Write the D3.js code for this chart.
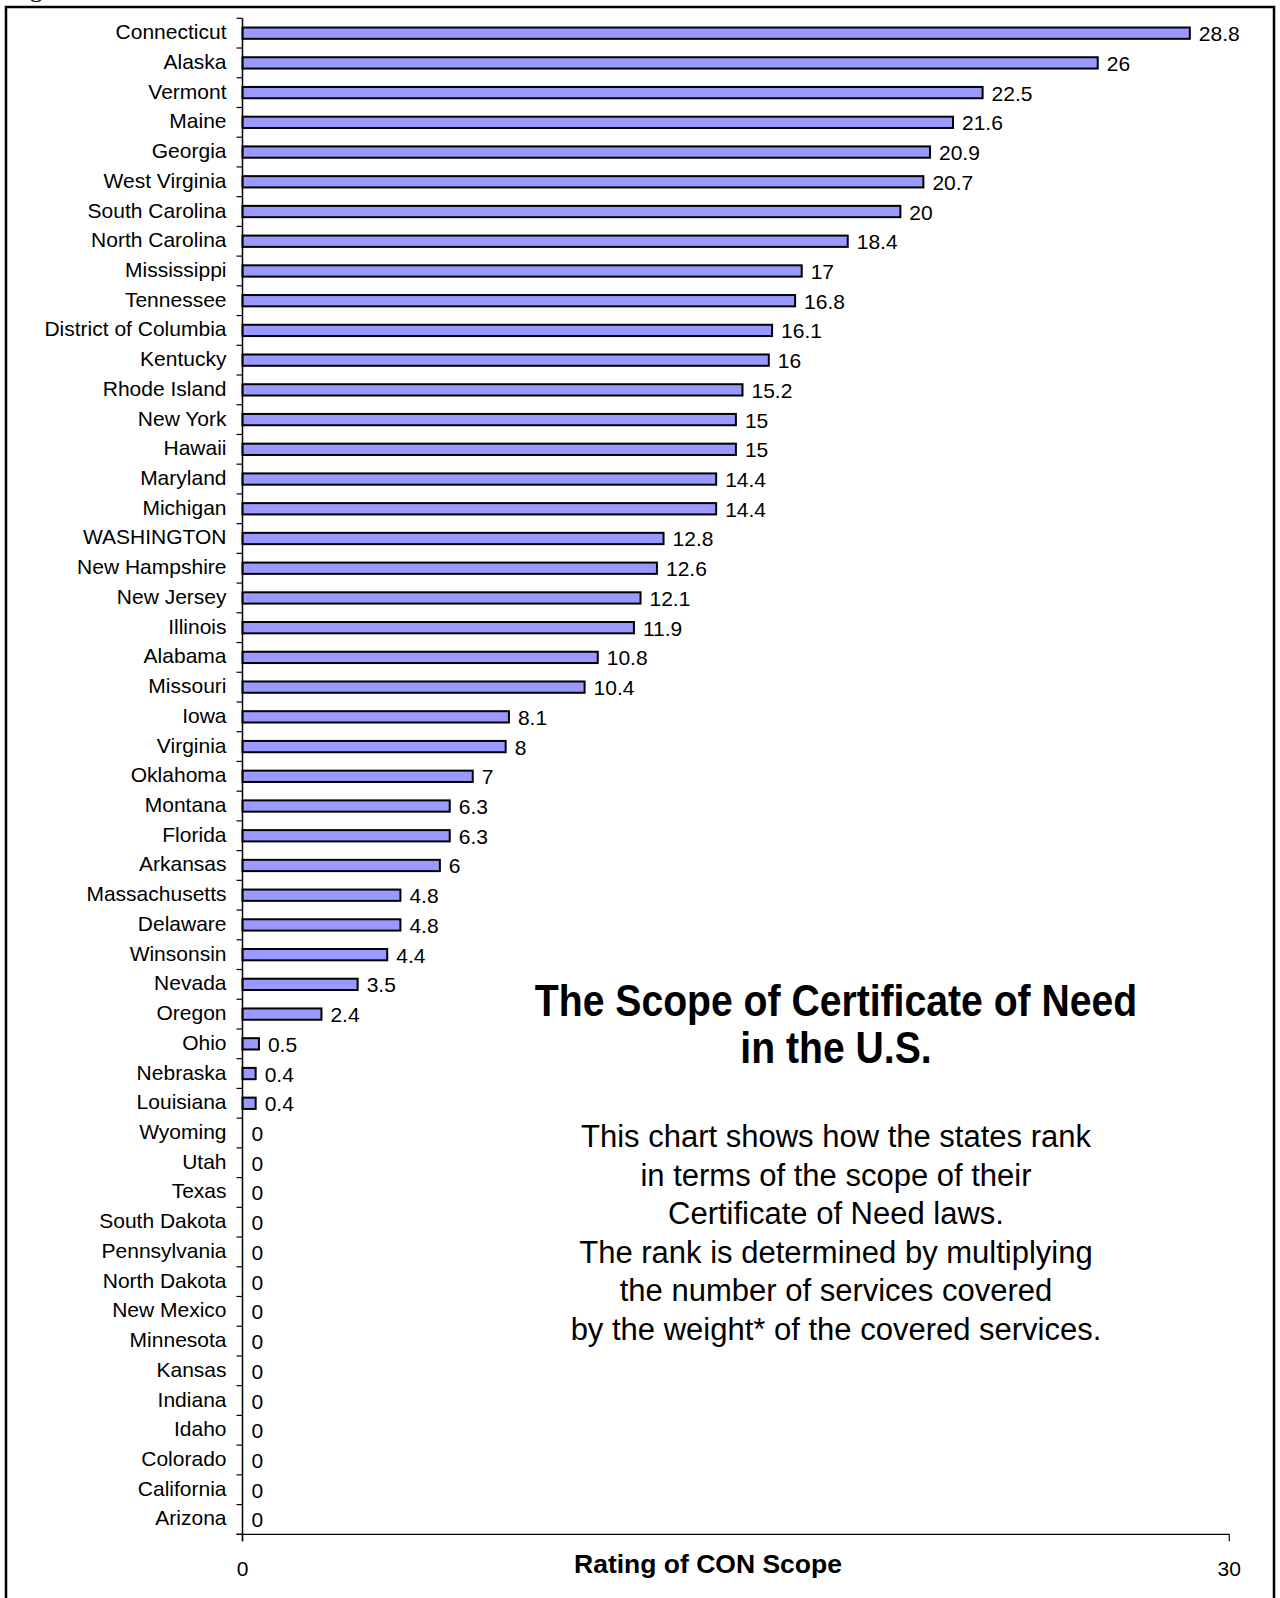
<!DOCTYPE html>
<html>
<head>
<meta charset="utf-8">
<script src="https://cdn.jsdelivr.net/npm/d3@7"></script>
<style>
  body { margin: 0; background: #fff; }
  svg { display: block; }
  text { font-family: "Liberation Sans", Arial, sans-serif; fill: #000; }
</style>
</head>
<body>
<div id="chart"></div>
<script>
// states, in the order they appear (top to bottom)
const states = ["Connecticut", "Alaska", "Vermont", "Maine", "Georgia", "West Virginia",
  "South Carolina", "North Carolina", "Mississippi", "Tennessee", "District of Columbia",
  "Kentucky", "Rhode Island", "New York", "Hawaii", "Maryland", "Michigan", "WASHINGTON",
  "New Hampshire", "New Jersey", "Illinois", "Alabama", "Missouri", "Iowa", "Virginia",
  "Oklahoma", "Montana", "Florida", "Arkansas", "Massachusetts", "Delaware", "Winsonsin",
  "Nevada", "Oregon", "Ohio", "Nebraska", "Louisiana", "Wyoming", "Utah", "Texas",
  "South Dakota", "Pennsylvania", "North Dakota", "New Mexico", "Minnesota", "Kansas",
  "Indiana", "Idaho", "Colorado", "California", "Arizona"];

// CON scope rating for each state
const scores = [28.8, 26, 22.5, 21.6, 20.9, 20.7, 20, 18.4, 17, 16.8, 16.1, 16, 15.2, 15, 15,
  14.4, 14.4, 12.8, 12.6, 12.1, 11.9, 10.8, 10.4, 8.1, 8, 7, 6.3, 6.3, 6, 4.8, 4.8, 4.4, 3.5,
  2.4, 0.5, 0.4, 0.4, 0, 0, 0, 0, 0, 0, 0, 0, 0, 0, 0, 0, 0, 0];

// x axis ticks
const xTicks = [0, 30];

const titleLines = ["The Scope of Certificate of Need", "in the U.S."];
const noteLines = ["This chart shows how the states rank", "in terms of the scope of their",
  "Certificate of Need laws.", "The rank is determined by multiplying",
  "the number of services covered", "by the weight* of the covered services."];

const data = states.map((s, i) => ({ name: s, v: scores[i] }));

// dimensions of the page and the plot area
const W = 1280, H = 1598;
const plot = { left: 242.5, right: 1229.3, top: 18.3, bottom: 1534.3 };

const svg = d3.select("#chart")
  .append("svg")
  .attr("width", W)
  .attr("height", H);

// frame around the figure (bottom edge runs off the page)
svg.append("rect")
  .attr("x", 6).attr("y", 7)
  .attr("width", 1268).attr("height", 1620)
  .attr("fill", "none")
  .attr("stroke", "#000")
  .attr("stroke-width", 2.5);

// caption above the frame, only its descender shows
svg.append("text")
  .attr("x", 8).attr("y", -3)
  .style("font-family", "'Liberation Serif', 'Times New Roman', serif")
  .style("font-size", "26px")
  .text("Figure");

// scales
const x = d3.scaleLinear()
  .domain([0, 30])
  .range([plot.left, plot.right]);

const y = d3.scaleBand()
  .domain(states)
  .range([plot.top, plot.bottom])
  .paddingInner(0.62)
  .paddingOuter(0.31);

const step = y.step();

// bars
svg.append("g")
  .selectAll("rect")
  .data(data)
  .join("rect")
  .attr("x", x(0))
  .attr("y", d => y(d.name))
  .attr("width", d => x(d.v) - x(0))
  .attr("height", y.bandwidth())
  .attr("fill", "#9999FF")
  .attr("stroke", d => d.v > 0 ? "#000" : "none")
  .attr("stroke-width", 2);

// value labels at the end of each bar
svg.append("g")
  .selectAll("text")
  .data(data)
  .join("text")
  .attr("x", d => x(d.v) + 9)
  .attr("y", d => y(d.name) + y.bandwidth() / 2 + 8)
  .style("font-size", "21px")
  .text(d => d.v);

// category axis: line, boundary ticks, state names
const yAxis = svg.append("g");
yAxis.append("line")
  .attr("x1", x(0)).attr("x2", x(0))
  .attr("y1", plot.top).attr("y2", plot.bottom + 7)
  .attr("stroke", "#000")
  .attr("stroke-width", 1.5);

yAxis.selectAll("line.tick")
  .data(d3.range(states.length + 1))
  .join("line")
  .attr("class", "tick")
  .attr("x1", x(0) - 6).attr("x2", x(0))
  .attr("y1", i => plot.top + i * step)
  .attr("y2", i => plot.top + i * step)
  .attr("stroke", "#000")
  .attr("stroke-width", 1.2);

yAxis.selectAll("text")
  .data(states)
  .join("text")
  .attr("x", x(0) - 16)
  .attr("y", d => y(d) + y.bandwidth() / 2 + 6)
  .attr("text-anchor", "end")
  .style("font-size", "21px")
  .text(d => d);

// value axis at the bottom
const xAxis = svg.append("g");
xAxis.append("line")
  .attr("x1", x(0) - 6).attr("x2", x(30))
  .attr("y1", plot.bottom).attr("y2", plot.bottom)
  .attr("stroke", "#000")
  .attr("stroke-width", 1.2);

xAxis.selectAll("line.tick")
  .data(xTicks)
  .join("line")
  .attr("class", "tick")
  .attr("x1", d => x(d)).attr("x2", d => x(d))
  .attr("y1", plot.bottom).attr("y2", plot.bottom + 7)
  .attr("stroke", "#000")
  .attr("stroke-width", 1.2);

xAxis.selectAll("text")
  .data(xTicks)
  .join("text")
  .attr("x", d => x(d))
  .attr("y", plot.bottom + 42)
  .attr("text-anchor", "middle")
  .style("font-size", "21px")
  .text(d => d);

// axis title
svg.append("text")
  .attr("x", 708)
  .attr("y", 1573)
  .attr("text-anchor", "middle")
  .style("font-size", "26.5px")
  .style("font-weight", "bold")
  .text("Rating of CON Scope");

// chart title inside the plot (condensed bold)
svg.append("g")
  .selectAll("text")
  .data(titleLines)
  .join("text")
  .attr("transform", (d, i) => `translate(836,${1016 + i * 47}) scale(0.87,1)`)
  .attr("text-anchor", "middle")
  .style("font-size", "45px")
  .style("font-weight", "bold")
  .text(d => d);

// explanatory note
svg.append("g")
  .selectAll("text")
  .data(noteLines)
  .join("text")
  .attr("x", 836)
  .attr("y", (d, i) => 1147 + i * 38.6)
  .attr("text-anchor", "middle")
  .style("font-size", "31px")
  .text(d => d);
</script>
</body>
</html>
